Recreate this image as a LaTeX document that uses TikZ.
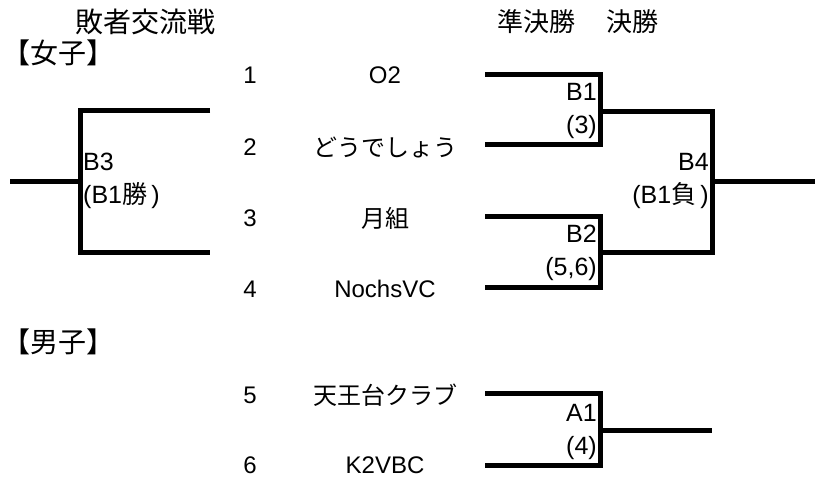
\documentclass[tikz,border=0pt]{standalone}
\usepackage{fontspec}
\setmainfont{Liberation Sans}
\newfontfamily\jp{Noto Sans CJK JP}

\begin{document}
\begin{tikzpicture}[x=1pt,y=-1pt,
    every node/.style={inner sep=0pt},
    bracket/.style={line width=5pt},
    headlbl/.style={font=\fontsize{28}{30}\selectfont\jp},
    numlbl/.style={font=\fontsize{24}{26}\selectfont},
    teamlbl/.style={font=\fontsize{24}{26}\selectfont},
    matchlbl/.style={font=\fontsize{25}{33}\selectfont, align=right, anchor=east},
    matchlbll/.style={font=\fontsize{25}{33}\selectfont, align=left, anchor=west}]
        \useasboundingbox (0,0) rectangle (815,479);

        % Headings
        \node[headlbl] (loserhead) at (145,22) {敗者交流戦};
        \node[headlbl, font=\fontsize{26}{28}\selectfont\jp] (semihead) at (536,22) {準決勝};
        \node[headlbl, font=\fontsize{26}{28}\selectfont\jp] (finalhead) at (632,22) {決勝};
        \node[headlbl, anchor=west] (women) at (2,53) {【女子】};
        \node[headlbl, anchor=west] (men) at (2,342) {【男子】};

        % Teams
        \foreach \n/\y/\team in {1/75/O2, 2/147/{\jp どうでしょう}, 3/218/{\jp 月組}, 4/289/NochsVC,
                                 5/395/{\jp 天王台クラブ}, 6/465/K2VBC} {
            \node[numlbl] (num\n) at (250,\y) {\n};
            \node[teamlbl] (team\n) at (385,\y) {\team};
        }

        % Women: semifinals
        \coordinate (b1in1) at (485,74);
        \coordinate (b1in2) at (485,144);
        \coordinate (b1out) at (600,111);
        \coordinate (b2in1) at (485,216);
        \coordinate (b2in2) at (485,287);
        \coordinate (b2out) at (600,252);
        \draw[bracket] (b1in1) -| (b1out) |- (b1in2);
        \draw[bracket] (b2in1) -| (b2out) |- (b2in2);
        \node[matchlbl] (b1lbl) at (597,111) {B1\\(3)};
        \node[matchlbl] (b2lbl) at (597,253) {B2\\(5,6)};

        % Women: final
        \coordinate (b4out) at (712,181);
        \coordinate (b4end) at (815,181);
        \draw[bracket] (b1out) -| (b4out) |- (b2out);
        \draw[bracket] (b4out) -- (b4end);
        \node[matchlbl] (b4lbl) at (709,181) {B4\\(B1{\jp 負}\,)};

        % Women: loser match
        \coordinate (b3in1) at (210,110);
        \coordinate (b3in2) at (210,252);
        \coordinate (b3out) at (80,181);
        \coordinate (b3end) at (10,181);
        \draw[bracket] (b3in1) -| (b3out) |- (b3in2);
        \draw[bracket] (b3out) -- (b3end);
        \node[matchlbll] (b3lbl) at (83,181) {B3\\(B1{\jp 勝}\,)};

        % Men
        \coordinate (a1in1) at (485,393);
        \coordinate (a1in2) at (485,465);
        \coordinate (a1out) at (600,430);
        \coordinate (a1end) at (712,430);
        \draw[bracket] (a1in1) -| (a1out) |- (a1in2);
        \draw[bracket] (a1out) -- (a1end);
        \node[matchlbl] (a1lbl) at (597,432) {A1\\(4)};
    \end{tikzpicture}
\end{document}
